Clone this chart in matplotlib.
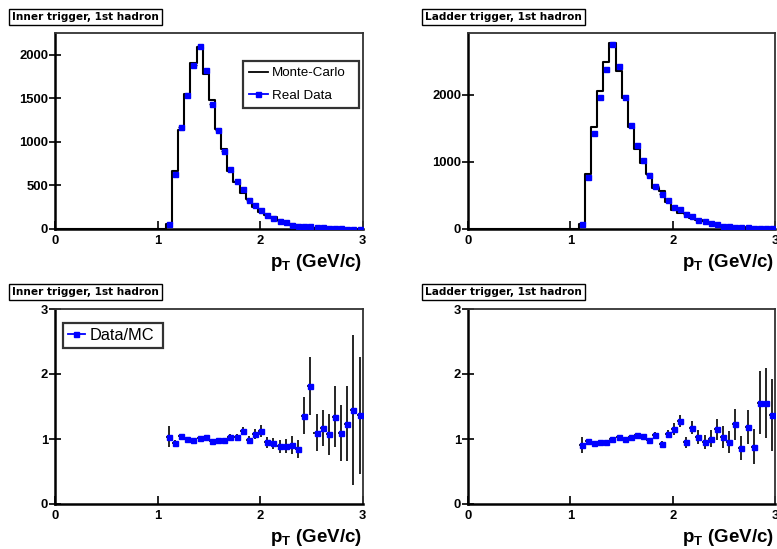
import matplotlib
matplotlib.use("Agg")
import matplotlib.pyplot as plt
from matplotlib.lines import Line2D
import numpy as np

plt.rcParams['font.family'] = ['Liberation Sans', 'DejaVu Sans']
plt.rcParams['mathtext.fontset'] = 'custom'
plt.rcParams['mathtext.bf'] = 'Liberation Sans:bold'
plt.rcParams['mathtext.rm'] = 'Liberation Sans:bold'

# ---------------- data ----------------
pt_centers = [1.11, 1.17, 1.23, 1.29, 1.35, 1.41, 1.47, 1.53, 1.59, 1.65, 1.71,
              1.77, 1.83, 1.89, 1.95, 2.01, 2.07, 2.13, 2.19, 2.25, 2.31, 2.37,
              2.43, 2.49, 2.55, 2.61, 2.67, 2.73, 2.79, 2.85, 2.91, 2.97]
bin_width = 0.06

mc_inner = [60, 665, 1130, 1550, 1910, 2090, 1780, 1480, 1150, 920, 670,
            540, 415, 340, 255, 190, 165, 138, 98, 80, 54, 45,
            25, 18, 17, 16, 14, 8, 7, 3, 3, 3]
data_inner = [57, 630, 1171, 1538, 1885, 2099, 1820, 1435, 1133, 896, 687,
              550, 462, 332, 270, 217, 160, 130, 92, 76, 49, 38,
              34, 33, 19, 19, 15, 11, 8, 4, 4, 4]

mc_ladder = [78, 815, 1525, 2060, 2495, 2770, 2355, 1960, 1520, 1188, 982,
             818, 609, 566, 402, 290, 234, 236, 165, 129, 120, 90,
             70, 49, 47, 29, 35, 21, 20, 12, 10, 9]
data_ladder = [70, 781, 1428, 1965, 2383, 2761, 2433, 1965, 1552, 1254, 1030,
               806, 647, 527, 433, 333, 299, 224, 196, 137, 114, 90,
               80, 50, 45, 35, 30, 25, 18, 18, 15, 12]

ratio_inner = [1.036, 0.944, 1.046, 0.995, 0.99, 1.01, 1.026, 0.974, 0.99, 0.98, 1.036,
               1.036, 1.123, 0.98, 1.077, 1.128, 0.949, 0.933, 0.892, 0.887, 0.908, 0.841,
               1.359, 1.815, 1.097, 1.169, 1.072, 1.344, 1.097, 1.236, 1.446, 1.369]
ratio_inner_err = [0.164, 0.04, 0.03, 0.025, 0.025, 0.02, 0.025, 0.025, 0.025, 0.03, 0.035,
                   0.04, 0.056, 0.06, 0.074, 0.09, 0.08, 0.09, 0.1, 0.11, 0.14, 0.14,
                   0.28, 0.45, 0.28, 0.28, 0.32, 0.47, 0.43, 0.58, 1.15, 0.9]

ratio_ladder = [0.902, 0.964, 0.938, 0.959, 0.959, 1.0, 1.036, 1.005, 1.026, 1.056, 1.051,
                0.985, 1.062, 0.923, 1.077, 1.149, 1.277, 0.949, 1.174, 1.036, 0.949, 1.005,
                1.149, 1.026, 0.949, 1.226, 0.862, 1.185, 0.882, 1.559, 1.559, 1.369]
ratio_ladder_err = [0.123, 0.025, 0.02, 0.02, 0.02, 0.02, 0.02, 0.02, 0.025, 0.025, 0.03,
                    0.035, 0.04, 0.045, 0.067, 0.09, 0.09, 0.08, 0.1, 0.11, 0.105, 0.13,
                    0.16, 0.17, 0.17, 0.24, 0.18, 0.26, 0.27, 0.48, 0.54, 0.56]

titles = ["Inner trigger, 1st hadron", "Ladder trigger, 1st hadron"]
xlabel = r"$\mathbf{p}_{\mathbf{T}}$ (GeV/c)"
top_yticks = [[0, 500, 1000, 1500, 2000], [0, 1000, 2000]]
top_ylim = [2245, 2920]
ratio_yticks = [0, 1, 2, 3]
xticks = [0, 1, 2, 3]

# ---------------- layout ----------------
W, H = 777, 549
fig = plt.figure(figsize=(W / 100, H / 100), dpi=100)


def px_axes(x0, y0, x1, y1):
    return fig.add_axes([x0 / W, 1 - y1 / H, (x1 - x0) / W, (y1 - y0) / H])


BLUE = (0, 0, 1)
TICKFS = 9.4
MS = 3.6

panels = {
    (0, 0): (55, 33.3, 362.7, 229),
    (0, 1): (468, 33.3, 775.3, 229),
    (1, 0): (55, 309, 362.7, 504),
    (1, 1): (468, 309, 775.3, 504),
}
title_pos = {0: 12, 1: 425}


def style_axes(ax):
    for s in ax.spines.values():
        s.set_linewidth(1.3)
        s.set_color('#333333')
    for s in ('left', 'bottom'):
        ax.spines[s].set_linewidth(1.8)
        ax.spines[s].set_color('black')
    ax.set_xlim(0, 3)
    ax.set_xticks(xticks)
    ax.set_xticklabels([str(t) for t in xticks], fontsize=TICKFS, fontweight='bold')
    ax.tick_params(axis='x', direction='in', length=6, width=1.2, pad=4)
    ax.tick_params(axis='y', direction='inout', length=8, width=1.2, pad=1)
    ax.minorticks_off()


def add_title(x, y, text):
    fig.text(x / W, 1 - y / H, text, ha='left', va='center',
             fontsize=7.6, fontweight='bold', family=['DejaVu Sans'],
             bbox=dict(boxstyle='square,pad=0.3', fc='white', ec='black', lw=1.0))


edges = np.array(pt_centers) - bin_width / 2
for col, (mc, data, ratio, rerr) in enumerate([
        (mc_inner, data_inner, ratio_inner, ratio_inner_err),
        (mc_ladder, data_ladder, ratio_ladder, ratio_ladder_err)]):
    # top histogram
    ax = px_axes(*panels[(0, col)])
    style_axes(ax)
    xs = np.concatenate([[0], edges, [edges[-1] + bin_width], [3]])
    ys = np.concatenate([[0], mc, [0], [0]])
    ax.step(xs, ys, where='post', color='black', lw=1.5, zorder=2)
    ax.errorbar(pt_centers, data, xerr=bin_width / 2, fmt='s', color=BLUE,
                ms=MS, mec=BLUE, ecolor='black', elinewidth=1.0, capsize=0, zorder=3)
    ax.set_ylim(0, top_ylim[col])
    ax.set_yticks(top_yticks[col])
    ax.set_yticklabels([str(t) for t in top_yticks[col]], fontsize=TICKFS, fontweight='bold')
    if col == 0:
        h1 = Line2D([], [], color='black', lw=1.3)
        h2 = Line2D([], [], color=BLUE, lw=1.3, marker='s', ms=MS)
        leg = ax.legend([h1, h2], ["Monte-Carlo", "Real Data"], loc='upper left',
                        bbox_to_anchor=(243 / W, 1 - 104.5 / H, 116 / W, 43.5 / H),
                        bbox_transform=fig.transFigure, mode='expand',
                        fontsize=9.6, frameon=True, fancybox=False, handlelength=1.4,
                        handletextpad=0.35, borderpad=0.45, labelspacing=0.75, borderaxespad=0)
        leg.get_frame().set_edgecolor('black')
        leg.get_frame().set_linewidth(1.6)
    x1 = panels[(0, col)][2]
    fig.text((x1 - 1) / W, 1 - 267 / H, xlabel, ha='right', va='baseline',
             fontsize=13.5, fontweight='bold')
    add_title(title_pos[col], 17, titles[col])

    # ratio
    ax2 = px_axes(*panels[(1, col)])
    style_axes(ax2)
    ax2.errorbar(pt_centers, ratio, xerr=bin_width / 2, yerr=rerr, fmt='s', color=BLUE,
                 ms=MS, mec=BLUE, ecolor='black', elinewidth=1.2, capsize=0, zorder=3)
    ax2.set_ylim(0, 3)
    ax2.set_yticks(ratio_yticks)
    ax2.set_yticklabels([str(t) for t in ratio_yticks], fontsize=TICKFS, fontweight='bold')
    if col == 0:
        h3 = Line2D([], [], color=BLUE, lw=1.3, marker='s', ms=MS)
        leg2 = ax2.legend([h3], ["Data/MC"], loc='upper left',
                          bbox_to_anchor=(63.3 / W, 1 - 349 / H, 100 / W, 26.3 / H),
                          bbox_transform=fig.transFigure, mode='expand',
                          fontsize=11.8, frameon=True, fancybox=False, handlelength=1.0,
                          handletextpad=0.3, borderpad=0.3, borderaxespad=0)
        leg2.get_frame().set_edgecolor('black')
        leg2.get_frame().set_linewidth(1.6)
    fig.text((x1 - 1) / W, 1 - 542 / H, xlabel, ha='right', va='baseline',
             fontsize=13.5, fontweight='bold')
    add_title(title_pos[col], 292, titles[col])

fig.savefig("out.png", dpi=100)
